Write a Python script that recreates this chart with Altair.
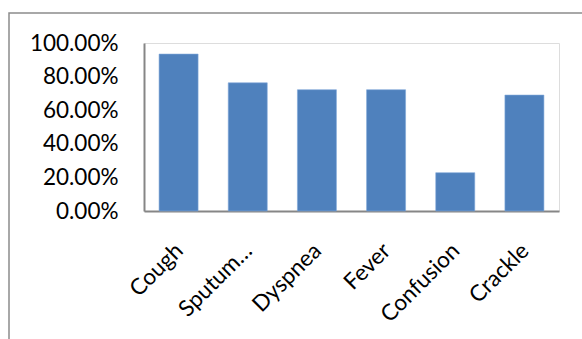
import altair as alt
import pandas as pd

categories = ["Cough", "Sputum…", "Dyspnea", "Fever", "Confusion", "Crackle"]
values = [0.934, 0.763, 0.722, 0.722, 0.228, 0.690]
y_ticks = [0, 0.2, 0.4, 0.6, 0.8, 1.0]

df = pd.DataFrame({"symptom": categories, "pct": values})

FONT = "Lato"
AXIS_GRAY = "#868686"

bars = alt.Chart(df).mark_bar(color="#4F81BD", stroke="#7FA7DA", strokeWidth=0.6).encode(
    x=alt.X(
        "symptom:N",
        sort=categories,
        title=None,
        scale=alt.Scale(paddingInner=0.436, paddingOuter=0.218),
        axis=alt.Axis(
            labelAngle=-45,
            labelAlign="right",
            labelBaseline="top",
            labelOffset=-7,
            labelPadding=28,
            ticks=False,
            tickSize=0,
            domainColor=AXIS_GRAY,
            domainWidth=2,
            labelFont=FONT,
            labelFontSize=22.5,
            labelColor="#000000",
            grid=False,
        ),
    ),
    y=alt.Y(
        "pct:Q",
        title=None,
        scale=alt.Scale(domain=[0, 1], nice=False),
        axis=alt.Axis(
            values=y_ticks,
            format=".2%",
            ticks=False,
            tickSize=0,
            labelPadding=26,
            domainColor=AXIS_GRAY,
            domainWidth=2,
            labelFont=FONT,
            labelFontSize=22.5,
            labelColor="#000000",
            grid=False,
        ),
    ),
)

border = alt.Chart(pd.DataFrame({"b": [0]})).mark_rect(
    fill=None, stroke="#8C8C8C", strokeWidth=1.5, clip=False
).encode(
    x=alt.value(-135),
    x2=alt.value(600),
    y=alt.value(-30),
    y2=alt.value(400),
)

chart = alt.layer(border, bars).properties(
    width=415,
    height=168,
    autosize=alt.AutoSizeParams(type="none"),
    padding={"left": 144, "top": 43, "right": 23, "bottom": 128},
).configure_view(stroke=None).configure(background="white")

chart.save("out.html", embed_options={"renderer": "svg", "actions": False})
